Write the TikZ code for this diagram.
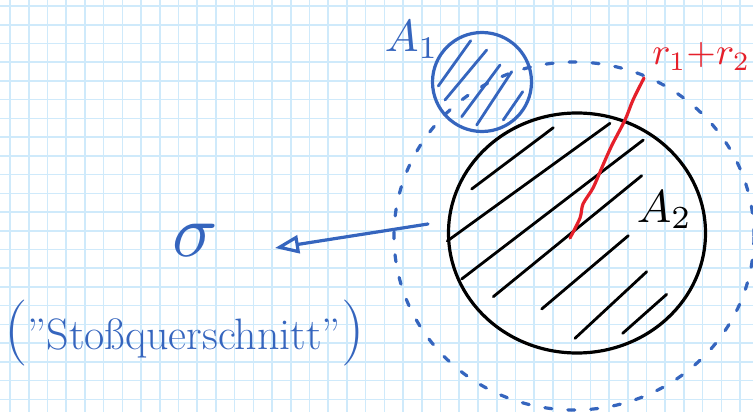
\documentclass[tikz,border=0pt]{standalone}
\usepackage{amsmath}
\usepackage{tikz}
\usetikzlibrary{arrows.meta,shapes.geometric}
\definecolor{pen}{HTML}{3565BE}
\definecolor{redpen}{HTML}{E5202B}
\definecolor{paper}{HTML}{CFEAFB}

\begin{document}
\begin{tikzpicture}[x=1pt, y=-1pt, every node/.style={inner sep=0pt},
      grid line/.style={draw=paper, line width=1.6pt},
      ink/.style={line width=3.2pt, line cap=round, line join=round},
      hatch/.style={ink, line width=2.8pt},
      >={Triangle[open, length=24pt, width=18pt]}]
    \useasboundingbox (0,0) rectangle (753,412);
    \fill[white] (0,0) rectangle (753,412);
    % squared paper
    \foreach \i in {0,...,39} \draw[grid line] (10+18.72*\i,0) -- (10+18.72*\i,412);
    \foreach \j in {0,...,21} \draw[grid line] (0,6+18.73*\j) -- (753,6+18.73*\j);
    % ring of radius r1+r2
    \draw[pen, ink, dash pattern=on 7pt off 16pt] (574,236) ellipse [x radius=180pt, y radius=174pt];
    % A2
    \node[ellipse, draw, ink, minimum width=257pt, minimum height=240pt] (disc2) at (577,233) {};
    \foreach \xa/\ya/\xb/\yb in {471.7/189/553.3/127.7, 447.3/241/610/123.3, 461.7/279/643.3/140,
        493.3/296.7/641.7/175.7, 541.7/309/628.3/235.7, 575/338.3/646.7/271.7, 622.7/333.3/666.7/294.3}
      \draw[hatch] (\xa,\ya) -- (\xb,\yb);
    % A1
    \node[circle, draw=pen, ink, minimum size=99pt] (disc1) at (482,82) {};
    \foreach \xa/\ya/\xb/\yb in {438.3/86/470.7/40.7, 445/100/486.7/50, 461.7/116.7/500/65,
        476.7/125/511.7/71.7, 503.3/120/522.7/91.7}
      \draw[pen, hatch] (\xa,\ya) -- (\xb,\yb);
    % r1+r2
    \draw[redpen, ink] plot[smooth] coordinates {(644,78) (633,100) (625,120) (612,145) (603,165)
        (593,188) (583,204) (580,218) (570,238)};
    \node[anchor=base east, text=redpen, scale=3.8] (lblsum) at (751,65) {$r_1{+}r_2$};
    \node[anchor=base west, text=pen, scale=4.5] (lblA1) at (384,52) {$A_1$};
    \node[anchor=base west, scale=4.6] (lblA2) at (636,222) {$A_2$};
    \node[text=pen, scale=7.5] (sigma) at (195,240) {$\sigma$};
    \node[anchor=base west, text=pen, font=\fontsize{44}{44}\selectfont] (name) at (4,349)
      {{\fontsize{66}{66}\selectfont(}"Stoßquerschnitt"{\fontsize{66}{66}\selectfont)}};
    \coordinate (tail) at (428,224);
    \coordinate (tip) at (275,248);
    \draw[pen, ink, ->] (tail) -- (tip);
  \end{tikzpicture}
\end{document}
